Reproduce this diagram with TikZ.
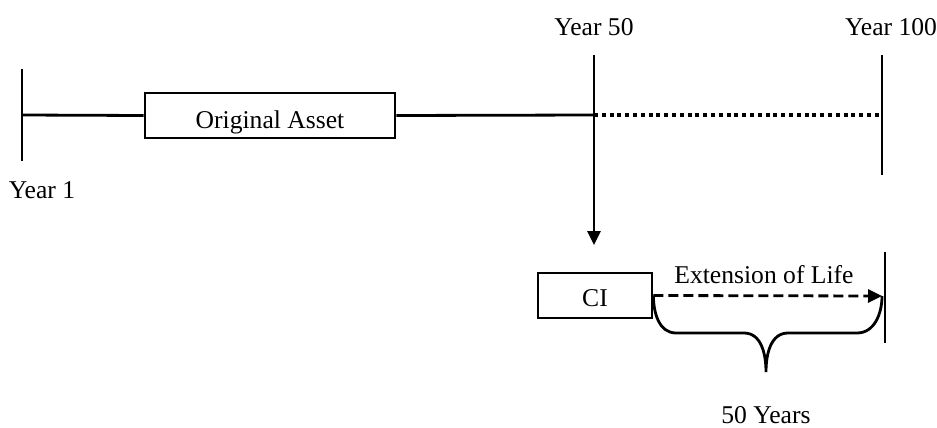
\documentclass[tikz,border=0pt]{standalone}
\usepackage{fontspec}
\setmainfont{Liberation Serif}
\usetikzlibrary{arrows.meta}
\begin{document}
\begin{tikzpicture}[
        x=0.5pt, y=-0.5pt,
        line width=1.4pt,
        font=\fontsize{12.8pt}{15pt}\selectfont
    ]
    \tikzset{
        yearbox/.style = {rectangle, draw=black, align=center, inner sep=0pt, text depth=0pt},
        yearlabel/.style = {inner sep=0pt},
        dotline/.style = {line width=1.8pt, dash pattern=on 2pt off 1.9pt},
        dashline/.style = {dash pattern=on 5pt off 2.5pt},
        tip/.style = {-{Triangle[length=7pt,width=6.5pt]}}
    }
    \useasboundingbox (0,0) rectangle (937,428);
    % time axis
    \coordinate (y1top) at (22,69);
    \coordinate (y1bot) at (22,161);
    \coordinate (y1mid) at (22,115);
    \coordinate (y50top) at (594,55);
    \coordinate (y50mid) at (594,115);
    \coordinate (y50end) at (594,245);
    \coordinate (y100top) at (882,55);
    \coordinate (y100bot) at (882,175);
    \coordinate (y100mid) at (882,115);
    \node[yearbox,minimum width=125pt,minimum height=22.5pt] (orig) at (270,115.5) {\raisebox{-4pt}{Original Asset}};
    \node[yearlabel] (lab1) at (42,190) {Year 1};
    \node[yearlabel] (lab50) at (594,27) {Year 50};
    \node[yearlabel] (lab100) at (891,27) {Year 100};
    \draw (y1top) -- (y1bot);
    \draw (y1mid) -- (orig.west);
    \draw (orig.east) -- (y50mid);
    \draw[dotline] (y50mid) -- (y100mid);
    \draw (y100top) -- (y100bot);
    \draw[tip] (y50top) -- (y50end);
    % capital improvement
    \node[yearbox,minimum width=57pt,minimum height=22.5pt] (ci) at (595,295.5) {\raisebox{-3pt}{CI}};
    \coordinate (endtop) at (885,252);
    \coordinate (endbot) at (885,343);
    \coordinate (extend) at (882,296);
    \draw (endtop) -- (endbot);
    \draw[dashline,tip] (ci.east) -- (extend);
    \node[yearlabel] (extlabel) at (764,275) {Extension of Life};
    \coordinate (bracetip) at (766,372);
    \draw (ci.east) to[out=-90,in=180] (676,333) -- (744,333) to[out=0,in=90] (bracetip)
        to[out=90,in=180] (788,333) -- (857,333) to[out=0,in=-90] (extend);
    \node[yearlabel] (yearslabel) at (766,415) {50 Years};
\end{tikzpicture}
\end{document}
